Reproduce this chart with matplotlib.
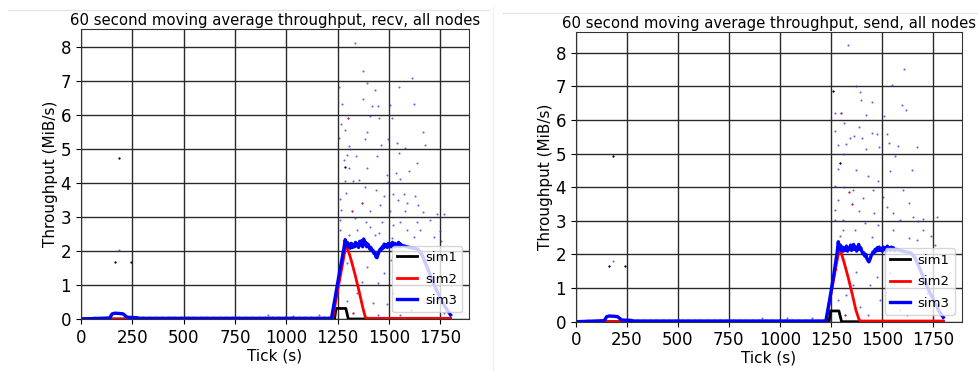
import matplotlib.pyplot as plt
from matplotlib.lines import Line2D

# moving average, recv
recv_sim1_t = [0, 1235, 1242, 1290, 1302, 1800]
recv_sim1_v = [0, 0, 0.31, 0.31, 0, 0]

recv_sim2_t = [0, 1225, 1290, 1297, 1315, 1335, 1355, 1372, 1385, 1395, 1800]
recv_sim2_v = [0, 0, 2.15, 2.1, 1.75, 1.3, 0.8, 0.35, 0.05, 0.02, 0.02]

recv_sim3_t = [0, 50, 140, 152, 165, 190, 205, 215, 225, 270, 285, 1220,
               1240, 1260, 1280, 1287, 1292, 1297, 1302, 1307, 1312, 1317, 1322,
               1327, 1332, 1337, 1342, 1347, 1352, 1357, 1362, 1367, 1372, 1377,
               1382, 1387, 1392, 1397, 1402, 1407, 1412, 1417, 1422, 1427, 1432,
               1437, 1442, 1447, 1452, 1457, 1462, 1467, 1472, 1477, 1482, 1487,
               1492, 1497, 1502, 1507, 1512, 1517, 1522, 1527, 1532, 1537, 1542,
               1547, 1552, 1557, 1562, 1570, 1600, 1640, 1660, 1680, 1700, 1720,
               1740, 1760, 1780, 1800]
recv_sim3_v = [0, 0.01, 0.03, 0.15, 0.17, 0.16, 0.15, 0.1, 0.05, 0.04, 0.02, 0.02,
               0.7, 1.4, 2.05, 2.33, 2.15, 2.25, 2.12, 2.2, 2.08, 2.22, 2.1,
               2.18, 2.12, 2.25, 2.15, 2.2, 2.1, 2.28, 2.18, 2.3, 2.12, 2.35,
               2.2, 2.25, 2.12, 2.2, 2.15, 2.05, 2.1, 2.0, 2.02, 1.92, 1.95,
               1.82, 1.8, 1.9, 1.98, 2.05, 2.02, 2.12, 2.08, 2.2, 2.12, 2.18,
               2.1, 2.22, 2.15, 2.2, 2.12, 2.25, 2.15, 2.22, 2.12, 2.2, 2.15,
               2.25, 2.12, 2.2, 2.15, 2.15, 2.1, 2.05, 1.9, 1.6, 1.3, 1.0,
               0.75, 0.5, 0.3, 0.12]

# raw samples, recv
recv_dots_t = [185, 185, 166, 244, 1337, 1373, 1612, 1394, 1259, 1549, 1430, 1373,
               1269, 1620, 1415, 1448, 1505, 1409, 1300, 1513, 1451, 1266, 1285,
               1667, 1391, 1259, 1383, 1495, 1537, 1303, 1310, 1675, 1578, 1461,
               1295, 1279, 1440, 1339, 1549, 1637, 1303, 1391, 1285, 1490, 1533,
               1600, 1286, 1326, 1352, 1493, 1556, 1381, 1438, 1522, 1573, 1476,
               1626, 1293, 1263, 1371, 1457, 1545, 1590, 1643, 1268, 1319, 1409,
               1503, 1579, 1666, 1734, 1766, 1263, 1337, 1386, 1468, 1520, 1556,
               1637, 1702, 1263, 1344, 1409, 1453, 1588, 1653, 1750, 1303, 1430,
               1515, 1620, 1718, 1754, 1295, 1393, 1474, 1368, 1449, 1344, 1522,
               1420, 1490, 1376, 1295, 1608, 1718, 1326, 1449, 1556, 1510, 1263,
               1702, 1766, 913, 1035, 1157]
recv_dots_v = [4.72, 2.03, 1.66, 1.66, 8.11, 7.29, 7.07, 6.94, 6.82, 6.82, 6.73, 6.47,
               6.31, 6.31, 6.24, 6.24, 6.29, 5.96, 5.9, 5.89, 5.89, 5.72, 5.56,
               5.48, 5.5, 5.32, 5.28, 5.28, 5.18, 5.08, 5.0, 5.11, 5.02, 5.12,
               4.82, 4.66, 4.8, 4.8, 4.86, 4.57, 4.42, 4.43, 4.45, 4.24, 4.28,
               4.35, 4.04, 4.04, 4.07, 4.02, 4.11, 3.89, 3.79, 3.68, 3.68, 3.6,
               3.6, 3.71, 3.52, 3.4, 3.35, 3.5, 3.4, 3.35, 3.2, 3.16, 3.16,
               3.16, 3.16, 3.13, 3.09, 3.09, 2.91, 2.96, 2.86, 2.86, 2.77, 2.86,
               2.86, 2.91, 2.62, 2.62, 2.7, 2.52, 2.62, 2.62, 2.57, 2.47, 2.47,
               2.38, 2.4, 2.4, 2.28, 1.64, 1.54, 1.35, 1.1, 1.06, 0.76, 0.76,
               0.47, 0.45, 0.27, 0.52, 0.27, 0.57, 0.18, 0.13, 0.13, 1.74, 1.54,
               0.96, 0.18, 0.13, 0.1, 0.13]
recv_red_t = [1300, 1319, 1371, 1326, 1608]
recv_red_v = [5.9, 3.16, 3.4, 0.18, 0.03]
recv_black_t = [185, 166, 244, 1285]
recv_black_v = [4.72, 1.66, 1.66, 4.45]

# moving average, send
send_sim1_t = [0, 1241, 1247, 1289, 1302, 1800]
send_sim1_v = [0, 0, 0.32, 0.32, 0, 0]

send_sim2_t = [0, 1225, 1290, 1298, 1315, 1335, 1355, 1372, 1388, 1398, 1800]
send_sim2_v = [0, 0, 2.15, 2.1, 1.75, 1.3, 0.8, 0.35, 0.05, 0.02, 0.02]

send_sim3_t = [0, 50, 140, 152, 165, 190, 205, 215, 225, 270, 285, 1225,
               1245, 1265, 1280, 1286, 1291, 1296, 1301, 1306, 1311, 1316, 1321,
               1326, 1331, 1336, 1341, 1346, 1351, 1356, 1361, 1366, 1371, 1376,
               1381, 1386, 1391, 1396, 1401, 1406, 1411, 1416, 1421, 1426, 1431,
               1436, 1441, 1446, 1451, 1456, 1461, 1466, 1471, 1476, 1481, 1486,
               1491, 1496, 1501, 1506, 1511, 1516, 1521, 1526, 1531, 1536, 1541,
               1546, 1551, 1556, 1561, 1571, 1600, 1640, 1660, 1680, 1700, 1720,
               1740, 1760, 1780, 1800]
send_sim3_v = [0, 0.01, 0.03, 0.15, 0.17, 0.16, 0.15, 0.1, 0.05, 0.04, 0.02, 0.02,
               0.7, 1.45, 2.05, 2.38, 2.15, 2.28, 2.12, 2.22, 2.1, 2.2, 2.12,
               2.25, 2.1, 2.2, 2.15, 2.28, 2.12, 2.2, 2.3, 2.15, 2.22, 2.1,
               2.2, 2.3, 2.15, 2.2, 2.1, 2.02, 2.05, 1.95, 2.0, 1.88, 1.82,
               1.78, 1.85, 1.95, 2.0, 2.08, 2.05, 2.15, 2.1, 2.2, 2.12, 2.22,
               2.12, 2.18, 2.1, 2.22, 2.15, 2.2, 2.1, 2.25, 2.15, 2.2, 2.12,
               2.22, 2.15, 2.2, 2.12, 2.15, 2.1, 2.05, 1.92, 1.65, 1.35, 1.05,
               0.8, 0.55, 0.3, 0.13]

# raw samples, send
send_dots_t = [184, 184, 163, 241, 1334, 1608, 1547, 1375, 1261, 1392, 1396, 1449,
               1600, 1617, 1269, 1299, 1512, 1421, 1313, 1388, 1269, 1473, 1362,
               1522, 1452, 1343, 1400, 1325, 1284, 1535, 1579, 1669, 1483, 1312,
               1424, 1565, 1294, 1285, 1375, 1648, 1538, 1432, 1481, 1271, 1316,
               1359, 1457, 1604, 1285, 1338, 1408, 1506, 1630, 1268, 1351, 1522,
               1555, 1387, 1460, 1650, 1701, 1767, 1268, 1310, 1416, 1478, 1588,
               1674, 1310, 1367, 1555, 1701, 1294, 1449, 1630, 1742, 1669, 1758,
               1277, 1375, 1473, 1359, 1440, 1538, 1326, 1489, 1285, 1392, 1588,
               1718, 1432, 1620, 1318, 910, 1033, 1155]
send_dots_v = [4.93, 1.81, 1.66, 1.66, 8.22, 7.52, 7.03, 7.0, 6.86, 6.83, 6.6, 6.53,
               6.46, 6.31, 6.21, 6.21, 6.11, 6.14, 5.92, 5.79, 5.69, 5.59, 5.54,
               5.59, 5.61, 5.47, 5.47, 5.28, 5.27, 5.32, 5.23, 5.2, 5.2, 5.0,
               5.14, 4.94, 4.72, 4.54, 4.51, 4.52, 4.48, 4.34, 4.18, 4.03, 4.01,
               3.93, 3.91, 3.91, 3.63, 3.86, 3.67, 3.71, 3.53, 3.32, 3.5, 3.42,
               3.24, 3.29, 3.22, 3.12, 3.07, 3.12, 3.02, 3.02, 2.94, 2.87, 3.02,
               2.99, 2.72, 2.74, 2.72, 2.72, 2.55, 2.52, 2.48, 2.54, 2.43, 2.28,
               1.58, 1.49, 1.34, 1.09, 1.09, 1.44, 0.79, 0.64, 0.64, 0.45, 0.35,
               0.84, 0.2, 0.2, 0.2, 0.12, 0.1, 0.12]
send_red_t = [1299, 1338, 1351, 1318]
send_red_v = [6.21, 3.86, 3.5, 0.2]
send_black_t = [184, 163, 241, 1261, 1294]
send_black_v = [4.93, 1.66, 1.66, 6.86, 4.72]

# small idle samples sitting just above the baseline (both directions)
idle_t = [62, 118, 275, 302, 330, 362, 395, 428, 455, 488, 520, 548, 583, 610,
          642, 675, 705, 738, 770, 800, 832, 868, 895, 930, 962, 995, 1025,
          1060, 1090, 1122, 1150, 1185, 1210]
idle_v = [0.05, 0.04, 0.05, 0.05, 0.05, 0.06, 0.05, 0.05, 0.05, 0.06, 0.05,
          0.05, 0.05, 0.06, 0.05, 0.05, 0.05, 0.05, 0.06, 0.05, 0.05, 0.05,
          0.06, 0.05, 0.05, 0.05, 0.06, 0.05, 0.05, 0.05, 0.06, 0.05, 0.05]

plt.rcParams['font.size'] = 11

fig = plt.figure(figsize=(9.79, 3.71), dpi=100)
ax1 = fig.add_axes([0.0827, 0.1402, 0.3964, 0.7817])
ax2 = fig.add_axes([0.588, 0.1329, 0.3943, 0.7817])


def draw(ax, title, s1, s2, s3, dots, red, black):
    ax.plot(s1[0], s1[1], color='black', lw=2, label='sim1')
    ax.plot(s2[0], s2[1], color='red', lw=2, label='sim2')
    ax.plot(s3[0], s3[1], color='blue', lw=2.4, label='sim3')
    ax.scatter(dots[0], dots[1], s=2.2, color='#3030e0', linewidths=0, alpha=0.75)
    ax.scatter(idle_t, idle_v, s=2.2, color='#3030e0', linewidths=0, alpha=0.75)
    ax.scatter(red[0], red[1], s=2.2, color='red', linewidths=0, alpha=0.8)
    ax.scatter(black[0], black[1], s=2.2, color='black', linewidths=0)
    ax.set_xlim(left=0)
    ax.set_ylim(bottom=0)
    ax.set_xticks([0, 250, 500, 750, 1000, 1250, 1500, 1750])
    ax.set_yticks(range(9))
    ax.tick_params(labelsize=12)
    ax.grid(True, color='#2a2a2a', lw=1)
    ax.set_axisbelow(True)
    ax.set_title(title, fontsize=10.7, pad=3)
    ax.set_xlabel('Tick (s)', fontsize=11, labelpad=1)
    ax.set_ylabel('Throughput (MiB/s)', fontsize=11, labelpad=2)
    ax.legend(loc='lower right', fontsize=9.5, handlelength=1.5,
              handletextpad=0.6, labelspacing=0.65)
    for sp in ax.spines.values():
        sp.set_color('#333333')


draw(ax1, '60 second moving average throughput, recv, all nodes',
     (recv_sim1_t, recv_sim1_v), (recv_sim2_t, recv_sim2_v), (recv_sim3_t, recv_sim3_v),
     (recv_dots_t, recv_dots_v), (recv_red_t, recv_red_v), (recv_black_t, recv_black_v))
draw(ax2, '60 second moving average throughput, send, all nodes',
     (send_sim1_t, send_sim1_v), (send_sim2_t, send_sim2_v), (send_sim3_t, send_sim3_v),
     (send_dots_t, send_dots_v), (send_red_t, send_red_v), (send_black_t, send_black_v))

# thin frame edges between the two panels
fig.add_artist(Line2D([0.008, 0.5], [0.973, 0.973], color='#e4e4e4', lw=1))
fig.add_artist(Line2D([0.514, 1.0], [0.965, 0.965], color='#e4e4e4', lw=1))
fig.add_artist(Line2D([0.504, 0.504], [0.0, 0.98], color='#f0f0f0', lw=1))

fig.savefig('out.png', dpi=100)
